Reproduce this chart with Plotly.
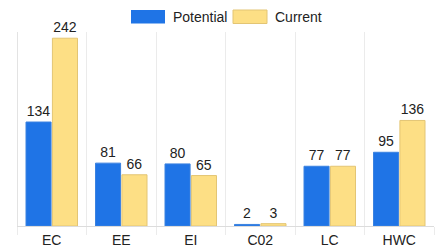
import plotly.graph_objects as go

categories = ["EC", "EE", "EI", "C02", "LC", "HWC"]
potential = [134, 81, 80, 2, 77, 95]
current = [242, 66, 65, 3, 77, 136]
series_names = ["Potential", "Current"]

BLUE = "#1f74e6"
YELLOW = "#fddf85"
FONT = "Liberation Sans, Arial, sans-serif"

fig = go.Figure()
fig.add_trace(go.Bar(
    x=categories, y=potential, name=series_names[0],
    marker=dict(color=BLUE, line=dict(color="#3b82e0", width=1)),
    text=potential, textposition="outside", cliponaxis=False,
    textfont=dict(family=FONT, size=14, color="#222222"),
    showlegend=False,
))
fig.add_trace(go.Bar(
    x=categories, y=current, name=series_names[1],
    marker=dict(color=YELLOW, line=dict(color="#e3c574", width=1)),
    text=current, textposition="outside", cliponaxis=False,
    textfont=dict(family=FONT, size=14, color="#222222"),
    showlegend=False,
))

# legend drawn in paper coordinates
W, H = 441, 249
L, R, T, B = 17, 7, 32, 23
pw, ph = W - L - R, H - T - B

def px_x(p):
    return (p - L) / pw

def px_y(p):
    return (H - B - p) / ph

shapes = [
    dict(type="rect", xref="paper", yref="paper",
         x0=px_x(131), x1=px_x(165), y0=px_y(23.5), y1=px_y(10),
         fillcolor=BLUE, line=dict(width=0)),
    dict(type="rect", xref="paper", yref="paper",
         x0=px_x(233), x1=px_x(267), y0=px_y(23.5), y1=px_y(10),
         fillcolor=YELLOW, line=dict(color="#e3c574", width=1)),
]
annotations = [
    dict(text=series_names[0], xref="paper", yref="paper", x=px_x(171), y=px_y(17),
         xanchor="left", yanchor="middle", showarrow=False,
         font=dict(family=FONT, size=14, color="#222222")),
    dict(text=series_names[1], xref="paper", yref="paper", x=px_x(273), y=px_y(17),
         xanchor="left", yanchor="middle", showarrow=False,
         font=dict(family=FONT, size=14, color="#222222")),
]

fig.update_layout(
    width=W, height=H,
    margin=dict(l=L, r=R, t=T, b=B, pad=0),
    paper_bgcolor="white", plot_bgcolor="white",
    barmode="group", bargap=0.24, bargroupgap=0.05,
    font=dict(family=FONT, size=14, color="#222222"),
    shapes=shapes, annotations=annotations,
    showlegend=False,
    xaxis=dict(
        type="category", tickson="boundaries", showgrid=True,
        gridcolor="#ebebeb", gridwidth=1,
        ticks="outside", ticklen=8, tickcolor="#ebebeb",
        ticklabelstandoff=4,
        showline=False, tickfont=dict(family=FONT, size=14, color="#222222"),
        range=[-0.5, 5.5], automargin=False,
    ),
    yaxis=dict(
        range=[0, 250], showgrid=False, showticklabels=False,
        zeroline=True, zerolinecolor="#dcdcdc", zerolinewidth=1,
        showline=False, automargin=False,
    ),
)
fig.add_vline(x=-0.5, line=dict(color="#c8c8c8", width=1))

fig.write_html(
    "out.html",
    config={"displayModeBar": False},
    post_script="document.body.style.margin='0';document.body.style.padding='0';document.body.style.overflow='hidden';",
)
